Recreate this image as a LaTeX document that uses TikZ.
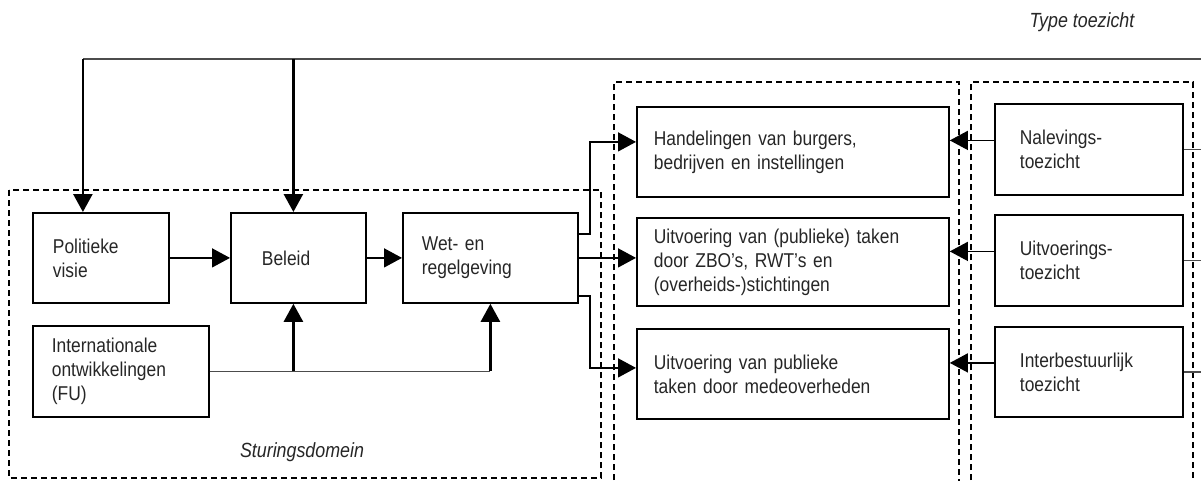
\documentclass[tikz,border=0pt]{standalone}
\usepackage{fontspec}
\setmainfont{Liberation Sans}[FakeStretch=0.87]
\usetikzlibrary{arrows.meta, positioning, calc}

\tikzset{
  box/.style={draw, line width=1.8pt, anchor=north west, align=left, inner ysep=0pt,
    text=black!85, font=\fontsize{20}{24}\selectfont},
  zone/.style={draw, line width=1.3pt, dash pattern=on 6pt off 4pt},
  feedline/.style={line width=1.3pt, black!70},
  leadline/.style={line width=1.6pt, black},
  headtip/.style={-{Triangle[length=18pt,width=19pt]}},
  heavyline/.style={line width=2.6pt, black},
  zonelabel/.style={text=black!85, font=\itshape\fontsize{20.5}{22}\selectfont},
}

\begin{document}
\begin{tikzpicture}[x=1pt, y=-1pt]
\clip (0,0) rectangle (1201,480);

% Domains
\draw[zone] (9,190) rectangle (601,478);
\draw[zone] (614,490) -- (614,82) -- (959,82) -- (959,490);
\draw[zone] (971,490) -- (971,82) -- (1193,82) -- (1193,490);

\node[zonelabel] (stur) at (302,452) {Sturingsdomein};
\node[zonelabel] (type) at (1082,22) {Type toezicht};

% Sturing boxes
\node[box, inner xsep=20pt, text width=96pt, minimum height=90pt] (pol) at (32,212) {Politieke\\visie};
\node[box, inner xsep=31pt, text width=73pt, minimum height=90pt] (bel) at (230,212) {Beleid};
\node[box, inner xsep=19pt, text width=137pt, minimum height=90pt] (wet) at (402,212) {Wet- en\\regelgeving};
\node[box, inner xsep=19pt, text width=138pt, minimum height=91pt] (intl) at (32,325) {Internationale\\ontwikkelingen\\(FU)};

% Task boxes
\node[box, inner xsep=17pt, text width=278pt, minimum height=90pt] (hand) at (636,106) {Handelingen van burgers,\\bedrijven en instellingen};
\node[box, inner xsep=17pt, text width=278pt, minimum height=88pt] (upt) at (636,217) {Uitvoering van (publieke) taken\\door ZBO’s, RWT’s en\\(overheids-)stichtingen};
\node[box, inner xsep=17pt, text width=278pt, minimum height=90pt] (med) at (636,328) {Uitvoering van publieke\\taken door medeoverheden};

% Toezicht boxes
\node[box, inner xsep=25pt, text width=138pt, minimum height=91pt] (nal) at (994,103) {Nalevings-\\toezicht};
\node[box, inner xsep=25pt, text width=138pt, minimum height=91pt] (uto) at (994,214) {Uitvoerings-\\toezicht};
\node[box, inner xsep=25pt, text width=138pt, minimum height=90pt] (ibt) at (994,326) {Interbestuurlijk\\toezicht};

% Top feedback line
\coordinate (rim) at (1201,59);
\draw[feedline] (rim) -- ([xshift=-18pt]pol.north |- rim);
\draw[heavyline, headtip] ([xshift=-18pt]pol.north |- rim) -- ([xshift=-18pt]pol.north);
\draw[heavyline, headtip] ([xshift=-5pt]bel.north |- rim) -- ([xshift=-5pt]bel.north);

% Sturing arrows
\draw[leadline, headtip] (pol.east) -- (bel.west);
\draw[leadline, headtip] (bel.east) -- (wet.west);
\draw[feedline] (intl.east) -- (intl.east -| wet.south);
\draw[heavyline, headtip] ([xshift=-5pt]bel.south |- intl.east) -- ([xshift=-5pt]bel.south);
\draw[heavyline, headtip] (intl.east -| wet.south) -- (wet.south);

% Wet to tasks
\draw[leadline, headtip] ([xshift=-2pt,yshift=24pt]wet.east) -- ++(13,0) |- ([yshift=10pt]hand.west);
\draw[leadline, headtip] (wet.east) -- (wet.east -| upt.west);
\draw[leadline, headtip] ([xshift=-2pt,yshift=-38pt]wet.east) -- ++(13,0) |- ([yshift=6pt]med.west);

% Toezicht to tasks
\draw[leadline, line width=1.3pt, headtip] ([yshift=9pt]nal.west) -- ([yshift=9pt]nal.west -| hand.east);
\draw[leadline, line width=1.3pt, headtip] ([yshift=9pt]uto.west) -- ([yshift=9pt]uto.west -| upt.east);
\draw[leadline, line width=1.3pt, headtip] ([yshift=9pt]ibt.west) -- ([yshift=9pt]ibt.west -| med.east);

% Stubs to the right
\draw[feedline] (nal.east) -- (nal.east -| rim);
\draw[feedline] (uto.east) -- (uto.east -| rim);
\draw[feedline] (ibt.east) -- (ibt.east -| rim);

\end{tikzpicture}
\end{document}
